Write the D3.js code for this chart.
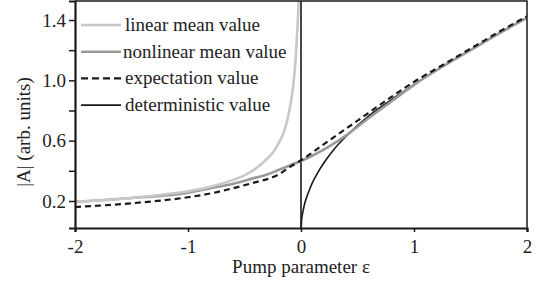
<!DOCTYPE html>
<html>
<head>
<meta charset="utf-8">
<script src="https://cdn.jsdelivr.net/npm/d3@7"></script>
<style>
  body { margin: 0; background: #fff; }
  svg text { font-family: "Liberation Serif", "Times New Roman", serif; fill: #222; }
</style>
</head>
<body>
<svg id="chart" width="537" height="285"></svg>
<script>
// values (pump parameter eps -> |A|)
const linearEps = [-2, -1.75, -1.5, -1.25, -1, -0.8, -0.6, -0.5, -0.4, -0.3, -0.25, -0.2, -0.15, -0.12, -0.1, -0.08, -0.06, -0.045, -0.035, -0.025, -0.02];
const linearVal = [0.195, 0.205, 0.22, 0.24, 0.265, 0.295, 0.34, 0.37, 0.415, 0.48, 0.52, 0.58, 0.66, 0.74, 0.81, 0.90, 1.03, 1.17, 1.30, 1.45, 1.55];

const nonlinEps = [-2, -1.5, -1, -0.8, -0.6, -0.4, -0.3, -0.2, -0.1, 0, 0.1, 0.2, 0.3, 0.4, 0.6, 0.8, 1.0, 1.25, 1.5, 1.75, 2];
const nonlinVal = [0.195, 0.22, 0.255, 0.285, 0.315, 0.355, 0.375, 0.405, 0.435, 0.465, 0.50, 0.54, 0.585, 0.635, 0.75, 0.86, 0.97, 1.09, 1.20, 1.31, 1.415];

const expectEps = [-2, -1.5, -1, -0.8, -0.6, -0.4, -0.3, -0.2, -0.1, 0, 0.2, 0.4, 0.6, 0.8, 1.0, 1.25, 1.5, 1.75, 2];
const expectVal = [0.16, 0.185, 0.225, 0.25, 0.285, 0.325, 0.345, 0.375, 0.425, 0.47, 0.575, 0.68, 0.785, 0.89, 0.99, 1.10, 1.21, 1.32, 1.425];

const determEps = [0, 0.005, 0.01, 0.02, 0.03, 0.05, 0.075, 0.1, 0.15, 0.2, 0.3, 0.4, 0.6, 0.8, 1.0, 1.25, 1.5, 1.75, 2];
const determVal = [0, 0.07, 0.1, 0.14, 0.175, 0.225, 0.275, 0.32, 0.39, 0.45, 0.55, 0.63, 0.765, 0.872, 0.972, 1.09, 1.2, 1.31, 1.414];

const xTicks = [-2, -1, 0, 1, 2];
const yTicks = [0.2, 0.4, 0.6, 0.8, 1.0, 1.2, 1.4];
const yTickLabels = ['0.2', '', '0.6', '', '1.0', '', '1.4'];

const legendNames = ['linear mean value', 'nonlinear mean value', 'expectation value', 'deterministic value'];

const W = 537, H = 285;
const margin = {top: 1, right: 10, bottom: 57, left: 75};

const svg = d3.select('#chart');

const x = d3.scaleLinear().domain([-2, 2]).range([margin.left, W - margin.right]);
const y = d3.scaleLinear().domain([0.021, 1.526]).range([H - margin.bottom, margin.top]);

svg.append('clipPath').attr('id', 'plot-clip')
  .append('rect')
  .attr('x', margin.left).attr('y', margin.top)
  .attr('width', W - margin.left - margin.right)
  .attr('height', H - margin.top - margin.bottom);

const line = d3.line()
  .x(d => x(d[0]))
  .y(d => y(d[1]))
  .curve(d3.curveMonotoneX);

const zip = (a, b) => a.map((v, i) => [v, b[i]]);

const series = [
  {name: legendNames[3], data: zip(determEps, determVal), color: '#1a1a1a', width: 1.6, dash: null},
  {name: legendNames[1], data: zip(nonlinEps, nonlinVal), color: '#9a9a9a', width: 2.6, dash: null},
  {name: legendNames[0], data: zip(linearEps, linearVal), color: '#c8c8c8', width: 2.6, dash: null},
  {name: legendNames[2], data: zip(expectEps, expectVal), color: '#1a1a1a', width: 2.2, dash: '6,4'}
];

// vertical line at eps = 0
svg.append('line')
  .attr('x1', x(0)).attr('x2', x(0))
  .attr('y1', y.range()[0]).attr('y2', y.range()[1])
  .attr('stroke', '#1a1a1a').attr('stroke-width', 1.6);

const curves = svg.append('g').attr('clip-path', 'url(#plot-clip)');
series.forEach(s => {
  curves.append('path')
    .attr('d', line(s.data))
    .attr('fill', 'none')
    .attr('stroke', s.color)
    .attr('stroke-width', s.width)
    .attr('stroke-dasharray', s.dash);
});

// frame: top and right
svg.append('path')
  .attr('d', `M${x(-2)},${y.range()[1]}H${x(2)}V${y.range()[0]}`)
  .attr('fill', 'none').attr('stroke', '#1a1a1a').attr('stroke-width', 1.5);

// axes
const xAxis = svg.append('g')
  .attr('transform', `translate(0,${y.range()[0]})`)
  .call(d3.axisBottom(x).tickValues(xTicks).tickSize(4).tickPadding(8).tickFormat(d => String(d)));
xAxis.select('.domain').attr('stroke', '#1a1a1a').attr('stroke-width', 2.2);
xAxis.selectAll('.tick line').attr('stroke', '#1a1a1a').attr('stroke-width', 1.5);
xAxis.selectAll('.tick text').attr('font-size', 19).attr('fill', '#222');

const yAxis = svg.append('g')
  .attr('transform', `translate(${x(-2)},0)`)
  .call(d3.axisLeft(y).tickValues(yTicks).tickSize(6).tickPadding(3)
    .tickFormat((d, i) => yTickLabels[i]));
yAxis.select('.domain').attr('stroke', '#1a1a1a').attr('stroke-width', 2.2);
yAxis.selectAll('.tick line').attr('stroke', '#1a1a1a').attr('stroke-width', 1.5);
yAxis.selectAll('.tick text').attr('font-size', 19).attr('fill', '#222');

// axis titles
svg.append('text')
  .attr('x', x(0)).attr('y', 273)
  .attr('text-anchor', 'middle')
  .attr('font-size', 19)
  .text('Pump parameter ε');

svg.append('text')
  .attr('transform', `translate(30,${132}) rotate(-90)`)
  .attr('text-anchor', 'middle')
  .attr('font-size', 19)
  .text('|A| (arb. units)');

// legend
const legendOrder = [2, 1, 3, 0];
const legend = svg.append('g');
legendOrder.forEach((si, i) => {
  const s = series[si];
  const ly = 25 + i * 26.7;
  legend.append('line')
    .attr('x1', 81).attr('x2', 121)
    .attr('y1', ly).attr('y2', ly)
    .attr('stroke', s.color)
    .attr('stroke-width', s.width)
    .attr('stroke-dasharray', s.dash ? '7,4' : null);
  legend.append('text')
    .attr('x', i === 1 ? 123 : 125).attr('y', ly + 6)
    .attr('font-size', 19)
    .text(s.name);
});
</script>
</body>
</html>
